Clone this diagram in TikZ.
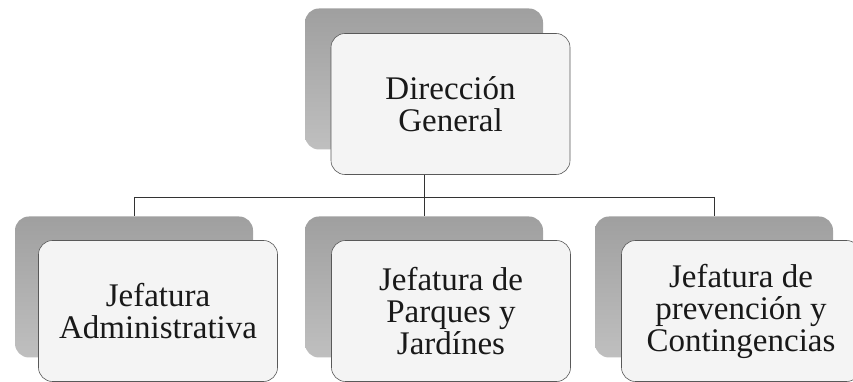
\documentclass[tikz,border=0pt]{standalone}
\usepackage{fontspec}
\setmainfont{Liberation Serif}
\begin{document}
\begin{tikzpicture}[x=1pt,y=1pt,
  backbox/.style={rounded corners=14pt, minimum width=238pt, minimum height=141pt,
    inner sep=0pt, top color=gray!75, bottom color=gray!50, draw=none},
  frontbox/.style={rounded corners=14pt, minimum width=239pt, minimum height=141pt,
    inner sep=0pt, fill=gray!9, draw=gray!70!black, line width=0.6pt,
    align=center, font=\fontsize{33}{32}\selectfont, text=black!90},
  conn/.style={draw=gray!40!black, line width=0.6pt}]
\useasboundingbox (0,0) rectangle (853,382);
\clip (0,0) rectangle (853,382);
% back boxes
\node[backbox] (b0) at (424,303) {};
\node[backbox] (b1) at (134,95) {};
\node[backbox] (b2) at (424,95) {};
\node[backbox] (b3) at (714,95) {};
% connectors
\coordinate (j) at (424,185);
\coordinate (jl) at (134,185);
\coordinate (jr) at (714,185);
\draw[conn] (b0.south) -- (j);
\draw[conn] (jl) -- (jr);
\draw[conn] (jl) -- (b1.north);
\draw[conn] (j) -- (b2.north);
\draw[conn] (jr) -- (b3.north);
% front boxes
\node[frontbox] (f0) at (450.5,278) {Dirección\\General};
\node[frontbox] (f1) at (158,71) {Jefatura\\Administrativa};
\node[frontbox] (f2) at (451,71) {Jefatura de\\Parques y\\Jardínes};
\node[frontbox] (f3) at (741,71) {Jefatura de\\prevención y\\Contingencias};
\end{tikzpicture}
\end{document}
